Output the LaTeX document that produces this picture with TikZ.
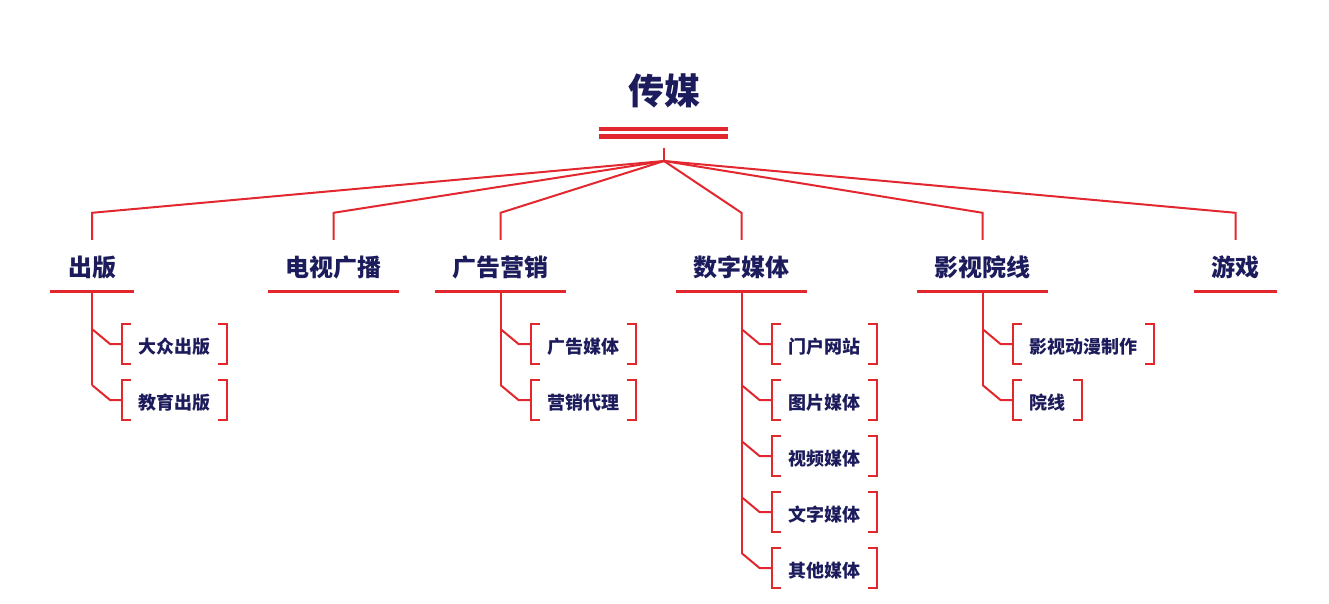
\documentclass[tikz,border=0pt]{standalone}
\usepackage{fontspec}
\setmainfont{Noto Sans CJK SC}
\usetikzlibrary{calc}
\definecolor{mediared}{HTML}{E2282E}
\definecolor{medianavy}{HTML}{1C1B5C}

\begin{document}
\begin{tikzpicture}[x=1pt,y=-1pt]

\tikzset{
  root node/.style={
    font=\bfseries\fontsize{36}{40}\selectfont,
    text=medianavy,
  },
  branch node/.style={
    font=\bfseries\fontsize{24}{28}\selectfont,
    text=medianavy,
    text height=24pt, text depth=2pt,
    inner xsep=17.5pt, inner ysep=0pt,
    minimum height=51pt,
  },
  leaf node/.style={
    anchor=west,
    font=\bfseries\fontsize{18}{21}\selectfont,
    text=medianavy,
    text height=21pt, text depth=1.5pt,
    inner xsep=16.5pt, inner ysep=0pt,
    minimum height=40pt,
  },
  tree line/.style={draw=mediared, line width=2pt},
  under line/.style={draw=mediared, line width=3pt},
  bracket line/.style={draw=mediared, line width=2pt},
}

\useasboundingbox (0,0) rectangle (1329,603);

% Root
\node[root node] (root) at (664,91) {传媒};
\draw[mediared, line width=4.5pt] (599,129) -- (728,129);
\draw[mediared, line width=4.5pt] (599,136.5) -- (728,136.5);
\coordinate (stub) at (664,148);
\coordinate (hub) at (664,161);
\draw[tree line] (stub) -- (hub);

% Level 1
\node[branch node] (chuban)   at (92,265.5)   {出版};
\node[branch node] (dianshi)  at (333.5,265.5) {电视广播};
\node[branch node] (guanggao) at (500.5,265.5) {广告营销};
\node[branch node] (shuzi)    at (741.5,265.5) {数字媒体};
\node[branch node] (yingshi)  at (982.5,265.5) {影视院线};
\node[branch node] (youxi)    at (1235.5,265.5) {游戏};

% Underlines and edges from the hub
\foreach \b in {chuban,dianshi,guanggao,shuzi,yingshi,youxi} {
  \draw[under line] (\b.south west) -- (\b.south east);
  \draw[tree line] (hub) -- ([yshift=27pt]\b.north) -- (\b.north);
}

% Level 2
\node[leaf node] (dazhong)  at (122,344) {大众出版};
\node[leaf node] (jiaoyu)   at (122,400) {教育出版};

\node[leaf node] (ggmeiti)  at (530.5,344) {广告媒体};
\node[leaf node] (yingxiao) at (530.5,400) {营销代理};

\node[leaf node] (menhu)    at (771.5,344) {门户网站};
\node[leaf node] (tupian)   at (771.5,400) {图片媒体};
\node[leaf node] (shipin)   at (771.5,456) {视频媒体};
\node[leaf node] (wenzi)    at (771.5,512) {文字媒体};
\node[leaf node] (qita)     at (771.5,568) {其他媒体};

\node[leaf node] (dongman)  at (1012.5,344) {影视动漫制作};
\node[leaf node] (yuanxian) at (1012.5,400) {院线};

% Trunks
\draw[tree line] (chuban.south)   -- ($(chuban.south |- jiaoyu.west)+(0,-15)$);
\draw[tree line] (guanggao.south) -- ($(guanggao.south |- yingxiao.west)+(0,-15)$);
\draw[tree line] (shuzi.south)    -- ($(shuzi.south |- qita.west)+(0,-15)$);
\draw[tree line] (yingshi.south)  -- ($(yingshi.south |- yuanxian.west)+(0,-15)$);

% Edges to leaves
\foreach \b/\l in {chuban/dazhong, chuban/jiaoyu,
                   guanggao/ggmeiti, guanggao/yingxiao,
                   shuzi/menhu, shuzi/tupian, shuzi/shipin, shuzi/wenzi, shuzi/qita,
                   yingshi/dongman, yingshi/yuanxian} {
  \draw[tree line] (\b.south |- \l.west) ++(0,-15) -- ++(18,15) -- (\l.west);
}

% Brackets
\foreach \l in {dazhong,jiaoyu,ggmeiti,yingxiao,menhu,tupian,shipin,wenzi,qita,dongman,yuanxian} {
  \draw[bracket line] ([xshift=9pt]\l.north west) -- (\l.north west) -- (\l.south west) -- ([xshift=9pt]\l.south west);
  \draw[bracket line] ([xshift=-9pt]\l.north east) -- (\l.north east) -- (\l.south east) -- ([xshift=-9pt]\l.south east);
}

\end{tikzpicture}
\end{document}
